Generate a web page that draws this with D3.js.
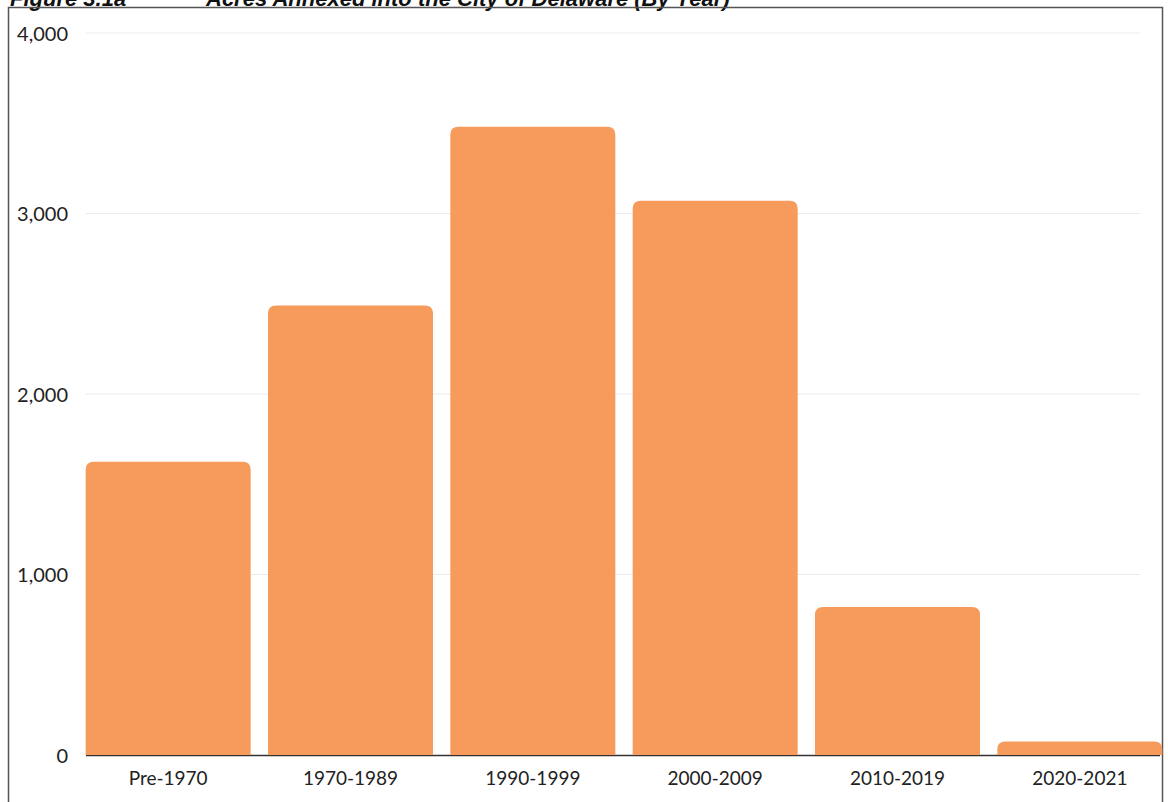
<!DOCTYPE html>
<html>
<head>
<meta charset="utf-8">
<script src="https://cdn.jsdelivr.net/npm/d3@7"></script>
<style>
  html, body { margin: 0; padding: 0; background: #fff; }
  svg { display: block; }
</style>
</head>
<body>
<svg id="chart" width="1168" height="802"></svg>
<script>
// Acres annexed by period
const periods = ["Pre-1970", "1970-1989", "1990-1999", "2000-2009", "2010-2019", "2020-2021"];
const acres = [1625, 2490, 3480, 3070, 820, 75];
const yTicks = [0, 1000, 2000, 3000, 4000];

const svg = d3.select("#chart");

const x = d3.scaleBand().domain(periods).range([77, 1171]).paddingInner(0.095).paddingOuter(0.0475);
const y = d3.scaleLinear().domain([0, 4000]).range([755, 33]);

// Figure caption (runs along the top edge, above the frame)
const cap = svg.append("g")
  .attr("font-family", "Liberation Sans, Arial, sans-serif")
  .attr("font-weight", "bold").attr("font-style", "italic")
  .attr("font-size", 22).attr("fill", "#111");
cap.append("text").attr("x", 10).attr("y", 6).text("Figure 3.1a");
cap.append("text").attr("x", 206).attr("y", 6).text("Acres Annexed into the City of Delaware (By Year)");

// Frame
svg.append("rect")
  .attr("x", 8.5).attr("y", 7.5).attr("width", 1154).attr("height", 820)
  .attr("fill", "none").attr("stroke", "#555").attr("stroke-width", 1.5);

// Gridlines
svg.append("g").selectAll("line").data(yTicks.filter(d => d > 0)).join("line")
  .attr("x1", 86).attr("x2", 1140)
  .attr("y1", d => y(d)).attr("y2", d => y(d))
  .attr("stroke", "#ebebeb").attr("stroke-width", 1);

// Y axis labels
const yAxis = d3.axisLeft(y).tickValues(yTicks).tickFormat(d3.format(",")).tickSize(0).tickPadding(0);
const yg = svg.append("g").attr("transform", "translate(68,0)").call(yAxis);
yg.select(".domain").remove();
yg.selectAll("text").attr("font-family", "Lato, sans-serif").attr("font-size", 20).attr("fill", "#222").attr("dy", "0.35em");

// Baseline
svg.append("line").attr("x1", 86).attr("x2", 1160).attr("y1", y(0) + 0.5).attr("y2", y(0) + 0.5)
  .attr("stroke", "#333").attr("stroke-width", 1.5);

// Bars with rounded tops
const r = 8;
function barPath(d, i) {
  const x0 = x(periods[i]), x1 = x0 + x.bandwidth();
  const y0 = y(0), y1 = y(d);
  const rr = Math.min(r, (y0 - y1));
  return `M${x0},${y0} L${x0},${y1 + rr} Q${x0},${y1} ${x0 + rr},${y1} L${x1 - rr},${y1} Q${x1},${y1} ${x1},${y1 + rr} L${x1},${y0} Z`;
}
svg.append("g").selectAll("path").data(acres).join("path")
  .attr("d", (d, i) => barPath(d, i))
  .attr("fill", "#f79b5c");

// X axis labels
const xAxis = d3.axisBottom(x).tickSize(0).tickPadding(0);
const xg = svg.append("g").attr("transform", `translate(0,${y(0) + 16})`).call(xAxis);
xg.select(".domain").remove();
xg.selectAll("text").attr("font-family", "Lato, sans-serif").attr("font-size", 19).attr("fill", "#222");
</script>
</body>
</html>
